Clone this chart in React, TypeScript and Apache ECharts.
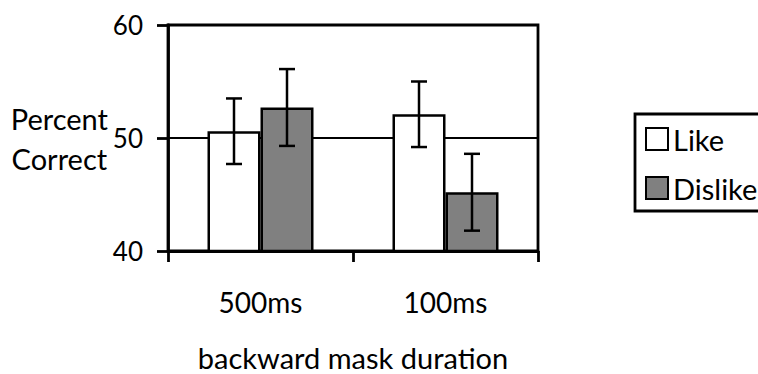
import React, { useEffect, useRef } from "react";
import * as echarts from "echarts";

const categories = ["500ms", "100ms"];
const likeValues = [50.6, 52.1];
const dislikeValues = [52.7, 45.2];
const likeErr = [2.9, 2.9];
const dislikeErr = [3.4, 3.4];
const yMin = 40;
const yMax = 60;
const yInterval = 10;

const FONT = "Lato";
const BAR_W = 53;

function errData(vals: number[], errs: number[]) {
  return vals.map((v, i) => [i, v - errs[i], v + errs[i]]);
}

function makeErrRender(offset: number) {
  return (params: any, api: any) => {
    const i = api.value(0);
    const lo = api.coord([i, api.value(1)]);
    const hi = api.coord([i, api.value(2)]);
    const x = lo[0] + offset;
    const half = 8;
    const st = { stroke: "#000", lineWidth: 2.5 };
    return {
      type: "group",
      children: [
        { type: "line", shape: { x1: x, y1: hi[1], x2: x, y2: lo[1] }, style: st },
        { type: "line", shape: { x1: x - half, y1: hi[1], x2: x + half, y2: hi[1] }, style: st },
        { type: "line", shape: { x1: x - half, y1: lo[1], x2: x + half, y2: lo[1] }, style: st },
      ],
    };
  };
}

export default function App() {
  const ref = useRef<HTMLDivElement>(null);
  useEffect(() => {
    if (!ref.current) return;
    const chart = echarts.init(ref.current, undefined, { renderer: "svg" });
    chart.setOption({
      animation: false,
      backgroundColor: "#fff",
      textStyle: { fontFamily: FONT },
      grid: {
        left: 168,
        right: 220,
        top: 25,
        bottom: 123,
        containLabel: false,
        outerBoundsMode: "none",
        show: true,
        borderColor: "#000",
        borderWidth: 2.8,
        backgroundColor: "transparent",
      },
      legend: {
        data: ["Like", "Dislike"],
        orient: "vertical",
        left: 635,
        top: 114,
        padding: [10.5, 30, 8.5, 10],
        itemGap: 20,
        itemWidth: 22,
        itemHeight: 22,
        borderColor: "#000",
        borderWidth: 2.8,
        icon: "rect",
        itemStyle: { borderColor: "#000", borderWidth: 2 },
        textStyle: { fontFamily: FONT, fontSize: 29, color: "#000", padding: [0, 0, 0, 0] },
      },
      xAxis: {
        type: "category",
        data: categories,
        name: "backward mask duration",
        nameLocation: "middle",
        nameGap: 106,
        nameTextStyle: { fontFamily: FONT, fontSize: 29, lineHeight: 28, color: "#000", verticalAlign: "middle" },
        axisLine: { lineStyle: { color: "#000", width: 2.8 } },
        axisTick: { show: true, length: 11, lineStyle: { color: "#000", width: 2.8 } },
        axisLabel: { fontFamily: FONT, fontSize: 28, color: "#000", margin: 37 },
      },
      yAxis: {
        type: "value",
        min: yMin,
        max: yMax,
        interval: yInterval,
        name: "Percent\nCorrect",
        nameLocation: "middle",
        nameRotate: 0,
        nameGap: 107,
        nameTextStyle: { fontFamily: FONT, fontSize: 29, color: "#000", align: "center", lineHeight: 40 },
        axisLine: { show: true, lineStyle: { color: "#000", width: 2.8 } },
        axisTick: { show: true, length: 11, lineStyle: { color: "#000", width: 2.8 } },
        axisLabel: { fontFamily: FONT, fontSize: 26, color: "#000", margin: 25 },
        splitLine: { show: true, lineStyle: { color: "#000", width: 2 } },
      },
      series: [
        {
          name: "Like",
          type: "bar",
          data: likeValues,
          barWidth: BAR_W,
          barGap: "0%",
          itemStyle: { color: "#ffffff", borderColor: "#000", borderWidth: 2.5 },
        },
        {
          name: "Dislike",
          type: "bar",
          data: dislikeValues,
          barWidth: BAR_W,
          barGap: "0%",
          itemStyle: { color: "#808080", borderColor: "#000", borderWidth: 2.5 },
        },
        {
          name: "likeErr",
          type: "custom",
          data: errData(likeValues, likeErr),
          encode: { x: 0, y: [1, 2] },
          renderItem: makeErrRender(-BAR_W / 2),
          z: 5,
        },
        {
          name: "dislikeErr",
          type: "custom",
          data: errData(dislikeValues, dislikeErr),
          encode: { x: 0, y: [1, 2] },
          renderItem: makeErrRender(BAR_W / 2),
          z: 5,
        },
      ],
    });
    return () => chart.dispose();
  }, []);
  return (
    <div
      ref={ref}
      style={{ position: "fixed", left: 0, top: 0, width: 758, height: 374 }}
    />
  );
}
